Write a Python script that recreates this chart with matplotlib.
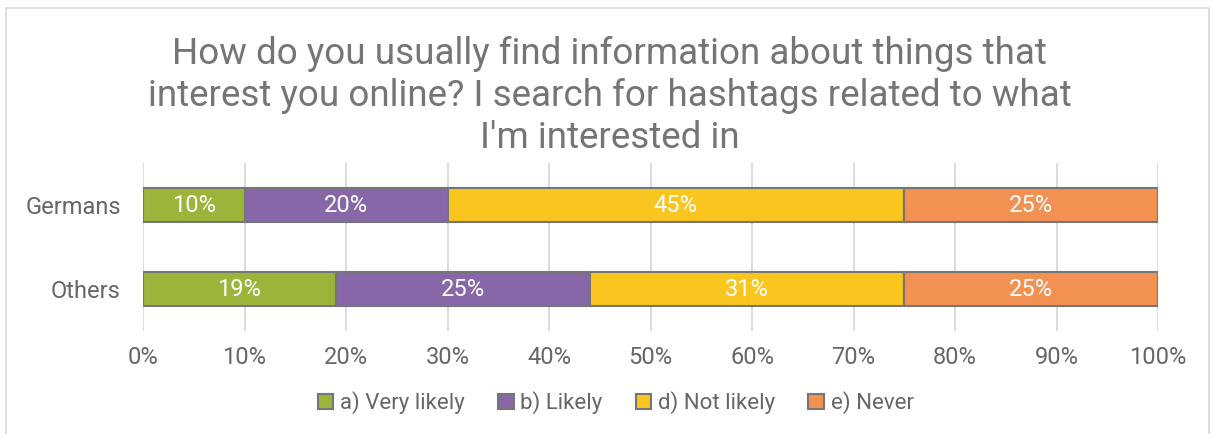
import matplotlib.pyplot as plt
from matplotlib.patches import Rectangle
import numpy as np

plt.rcParams['font.family'] = ['Roboto', 'DejaVu Sans']

groups = ["Others", "Germans"]
answers = ["a) Very likely", "b) Likely", "d) Not likely", "e) Never"]
very_likely = [19, 10]
likely = [25, 20]
not_likely = [31, 45]
never = [25, 25]
colors = ["#9BB53A", "#8767A8", "#FAC51F", "#F29152"]

title = ("How do you usually find information about things that\n"
         "interest you online? I search for hashtags related to what\n"
         "I'm interested in")

series = [very_likely, likely, not_likely, never]
grey = "#666666"

fig = plt.figure(figsize=(12.12, 4.34), dpi=100)
# light frame round the chart area
fig.patches.append(Rectangle((6 / 1212, -0.01), 1203 / 1212, 1 - 8 / 434 + 0.01,
                             transform=fig.transFigure, fill=False,
                             edgecolor="#D9D9D9", linewidth=1.2))

ax = fig.add_axes([143 / 1212, 1 - 331 / 434, 1015 / 1212, 168 / 434])
y = np.arange(len(groups))
left = np.zeros(len(groups))
for vals, col, name in zip(series, colors, answers):
    vals = np.array(vals, dtype=float)
    ax.barh(y, vals, left=left, height=0.4, color=col, edgecolor="#767676",
            linewidth=1.5, label=name, zorder=3)
    for yi, v, l in zip(y, vals, left):
        ax.text(l + v / 2, yi, f"{v:.0f}%", ha="center", va="center",
                color="white", fontsize=17, zorder=4)
    left += vals

ax.set_xlim(0, 100)
ax.set_ylim(-0.5, 1.5)
ax.set_xticks(np.arange(0, 101, 10))
ax.set_xticklabels([f"{t}%" for t in range(0, 101, 10)])
ax.set_yticks(y)
ax.set_yticklabels(groups)
ax.tick_params(axis="x", length=0, pad=11, labelsize=17, labelcolor=grey)
ax.tick_params(axis="y", length=0, pad=16, labelsize=17, labelcolor=grey)
ax.grid(axis="x", color="#D9D9D9", linewidth=1.3, zorder=0)
for s in ax.spines.values():
    s.set_visible(False)

fig.text(0.503, 1 - 96 / 434, title, ha="center", va="center",
         fontsize=26.5, color="#757575", linespacing=1.2)

handles, labels = ax.get_legend_handles_labels()
leg = fig.legend(handles, labels, loc="center", bbox_to_anchor=(0.508, 1 - 403 / 434),
                 ncol=4, frameon=False, fontsize=16, handlelength=0.7,
                 handleheight=0.7, handletextpad=0.3, columnspacing=1.5)
for t in leg.get_texts():
    t.set_color(grey)

fig.savefig("out.png", dpi=100)
